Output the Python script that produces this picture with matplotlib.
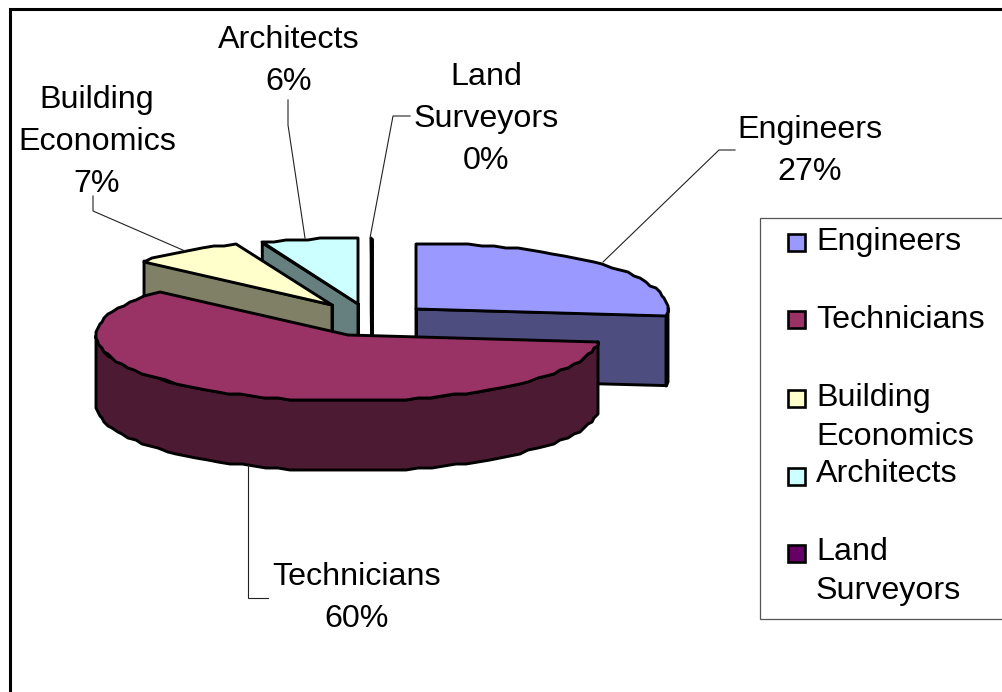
import numpy as np
import matplotlib
matplotlib.use("Agg")
import matplotlib.pyplot as plt
from matplotlib.patches import Polygon, Rectangle
from matplotlib.colors import to_rgb

plt.rcParams['font.family'] = ['Liberation Sans', 'DejaVu Sans']

# Chart data
categories = ["Engineers", "Technicians", "Building\nEconomics", "Architects", "Land\nSurveyors"]
values = [26.6, 60.0, 7.2, 6.15, 0.05]
colors = ["#9999FF", "#993366", "#FFFFCC", "#CCFFFF", "#660066"]

# Pie geometry, in pixels
RX, RY, DEPTH = 252, 66, 70
centers = [(416, 309), (348, 335), (332, 305), (358, 304), (372, 304)]
draw_order = [4, 3, 2, 0, 1]
LW = 2.1
FS = 23.2

fig = plt.figure(figsize=(10.03, 6.92), dpi=100)
ax = fig.add_axes([0, 0, 1, 1])
ax.set_xlim(0, 1003)
ax.set_ylim(692, 0)
ax.axis("off")


def jag(pts):
    # the original has coarse integer outlines
    return np.round(np.asarray(pts) / 2.0) * 2.0


def rim(cx, cy, t0, t1, dy=0):
    n = max(2, int((t1 - t0) / 3) + 2)
    t = np.radians(np.linspace(t0, t1, n))
    return np.column_stack([cx + RX * np.sin(t), cy - RY * np.cos(t) + dy])


def dark(c):
    return tuple(v / 2 for v in to_rgb(c))


def poly(pts, fc):
    ax.add_patch(Polygon(pts, closed=True, fc=fc, ec="black", lw=LW, joinstyle="round", zorder=1))


ends = np.cumsum(values) / np.sum(values) * 360
starts = np.concatenate([[0], ends[:-1]])

for i in draw_order:
    cx, cy = centers[i]
    t0, t1 = starts[i], ends[i]
    side = dark(colors[i])
    # cut faces turned towards the viewer
    for t, facing in ((t0, np.sin(np.radians(t0)) < -1e-6), (t1, np.sin(np.radians(t1)) > 1e-6)):
        if facing:
            p = rim(cx, cy, t, t)[0]
            poly([(cx, cy), p, (p[0], p[1] + DEPTH), (cx, cy + DEPTH)], side)
            # keeps a nearly zero-width slice visible as a line
            ax.plot([cx, cx], [cy, cy + DEPTH], color="black", lw=LW, zorder=1)
    # outer wall, front half only
    a0, a1 = max(t0, 90), min(t1, 270)
    if a1 > a0:
        top = jag(rim(cx, cy, a0, a1))
        bottom = jag(rim(cx, cy, a0, a1, DEPTH))
        poly(np.vstack([top, bottom[::-1]]), side)
    # top face
    poly(np.vstack([[(cx, cy)], jag(rim(cx, cy, t0, t1))]), colors[i])

# Leader lines
leaders = [
    [(735, 150), (719, 150), (603, 262)],
    [(268, 598), (248, 598), (248, 465)],
    [(93, 196), (93, 211), (185, 251)],
    [(288, 100), (288, 125), (305, 238)],
    [(410, 116), (393, 116), (370, 238)],
]
for line in leaders:
    xs, ys = zip(*line)
    ax.plot(xs, ys, color="#222222", lw=0.8, solid_joinstyle="miter")

# Data labels
label_pos = [(810, 151), (357, 598), (97, 142), (289, 61), (486, 119)]
for name, v, (x, y) in zip(categories, values, label_pos):
    ax.text(x, y, f"{name}\n{round(v)}%", ha="center", va="center", fontsize=FS,
            linespacing=1.52, color="black")

# Legend
ax.add_patch(Rectangle((760, 218), 260, 401, fc="white", ec="#555555", lw=0.9))
swatch_y = [242, 319, 398, 476, 553]
legend_text_y = [242, 320, 398, 474, 552]
for name, c, sy, ty in zip(categories, colors, swatch_y, legend_text_y):
    ax.add_patch(Rectangle((788, sy - 8.5), 17, 17, fc=c, ec="black", lw=LW * 0.9))
    ax.text(816, ty - 15, name, ha="left", va="top", fontsize=FS, linespacing=1.4, color="black")

# Chart frame, cropped at right and bottom
ax.plot([10.5, 10.5, 1010], [700, 8.5, 8.5], color="black", lw=2.2, solid_joinstyle="miter")

fig.savefig("out.png", dpi=100)
